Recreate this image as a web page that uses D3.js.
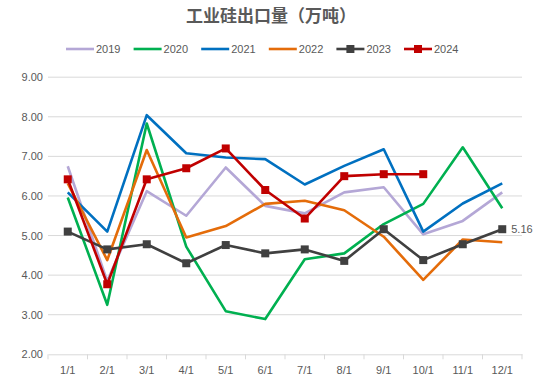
<!DOCTYPE html>
<html>
<head>
<meta charset="utf-8">
<script src="https://cdn.jsdelivr.net/npm/d3@7"></script>
<style>
  body { margin: 0; background: #fff; }
  text { font-family: "Liberation Sans", "DejaVu Sans", sans-serif; fill: #595959; }
  .title { font-family: "Noto Sans CJK SC", serif; font-weight: bold; }
</style>
</head>
<body>
<script>
const months = ["1/1","2/1","3/1","4/1","5/1","6/1","7/1","8/1","9/1","10/1","11/1","12/1"];
const years = ["2019","2020","2021","2022","2023","2024"];
const v2019 = [6.75,3.85,6.12,5.50,6.72,5.75,5.56,6.09,6.22,5.03,5.37,6.09];
const v2020 = [5.96,3.25,7.83,4.72,3.09,2.89,4.40,4.55,5.29,5.80,7.23,5.69];
const v2021 = [6.09,5.10,8.04,7.08,6.97,6.93,6.29,6.76,7.18,5.10,5.81,6.32];
const v2022 = [6.32,4.38,7.16,4.95,5.24,5.80,5.88,5.64,4.97,3.88,4.90,4.83];
const v2023 = [5.10,4.65,4.78,4.30,4.76,4.55,4.65,4.36,5.16,4.38,4.78,5.16];
const v2024 = [6.42,3.77,6.42,6.70,7.20,6.15,5.43,6.50,6.55,6.55];
const yTicks = [2,3,4,5,6,7,8,9];

const seriesValues = [v2019, v2020, v2021, v2022, v2023, v2024];
const colors = ["#b4a7d6","#00b050","#0070c0","#e46c0a","#404040","#c00000"];
const markers = [false,false,false,false,true,true];

const width = 541, height = 387;
const svg = d3.select("body").append("svg").attr("width", width).attr("height", height);

const xScale = d3.scaleBand().domain(months).range([48, 522]);
const yScale = d3.scaleLinear().domain([2, 9]).range([354.3, 77.2]);

// gridlines
svg.append("g").selectAll("line")
  .data(yTicks.filter(d => d > 2))
  .enter().append("line")
  .attr("x1", 48).attr("x2", 522)
  .attr("y1", d => yScale(d)).attr("y2", d => yScale(d))
  .attr("stroke", "#d9d9d9").attr("stroke-width", 1);

// y axis labels
svg.append("g").selectAll("text")
  .data(yTicks)
  .enter().append("text")
  .attr("x", 43).attr("y", d => yScale(d) + 4)
  .attr("text-anchor", "end")
  .attr("font-size", 11)
  .text(d => d.toFixed(2));

// x axis
const xAxis = svg.append("g")
  .attr("transform", "translate(0," + yScale(2) + ")")
  .call(d3.axisBottom(xScale).tickSize(0).tickPadding(12));
xAxis.select(".domain").attr("stroke", "#d9d9d9");
xAxis.selectAll("text").attr("font-size", 11).attr("fill", "#595959")
  .style("font-family", "'Liberation Sans', sans-serif");
svg.append("g").selectAll("line")
  .data(months.concat(["end"]))
  .enter().append("line")
  .attr("x1", (d, i) => 48 + i * xScale.step())
  .attr("x2", (d, i) => 48 + i * xScale.step())
  .attr("y1", yScale(2)).attr("y2", yScale(2) + 5)
  .attr("stroke", "#d9d9d9");

const line = d3.line()
  .x((d, i) => xScale(months[i]) + xScale.bandwidth() / 2)
  .y(d => yScale(d));

seriesValues.forEach((vals, k) => {
  svg.append("path")
    .datum(vals)
    .attr("d", line)
    .attr("fill", "none")
    .attr("stroke", colors[k])
    .attr("stroke-width", 2.6)
    .attr("stroke-linejoin", "round");
  if (markers[k]) {
    svg.append("g").selectAll("rect")
      .data(vals)
      .enter().append("rect")
      .attr("x", (d, i) => xScale(months[i]) + xScale.bandwidth() / 2 - 4)
      .attr("y", d => yScale(d) - 4)
      .attr("width", 8).attr("height", 8)
      .attr("fill", colors[k]);
  }
});

// data label on last 2023 point
svg.append("text")
  .attr("x", xScale("12/1") + xScale.bandwidth() / 2 + 9)
  .attr("y", yScale(v2023[11]) + 4)
  .attr("font-size", 11)
  .attr("fill", "#404040")
  .text(v2023[11].toFixed(2));

// title
svg.append("text")
  .attr("class", "title")
  .attr("x", 271).attr("y", 22)
  .attr("text-anchor", "middle")
  .attr("font-size", 17)
  .text("工业硅出口量（万吨）");

// legend
const legend = svg.append("g").attr("id", "legend");
years.forEach((y, k) => {
  const x0 = 66 + k * 67.6;
  legend.append("line")
    .attr("x1", x0).attr("x2", x0 + 28)
    .attr("y1", 49).attr("y2", 49)
    .attr("stroke", colors[k]).attr("stroke-width", 2.6);
  if (markers[k]) {
    legend.append("rect")
      .attr("x", x0 + 10).attr("y", 45)
      .attr("width", 8).attr("height", 8)
      .attr("fill", colors[k]);
  }
  legend.append("text")
    .attr("x", x0 + 30).attr("y", 53)
    .attr("font-size", 11)
    .text(y);
});
</script>
</body>
</html>
